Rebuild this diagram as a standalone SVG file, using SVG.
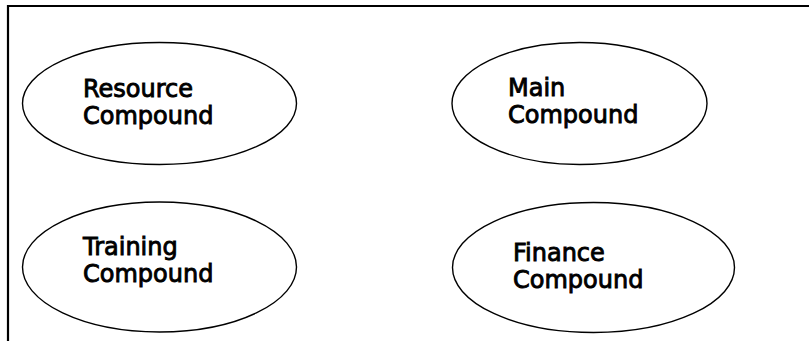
<svg xmlns="http://www.w3.org/2000/svg" width="809" height="341" viewBox="0 0 809 341">
<style>
.frame{fill:none;stroke:#000;stroke-width:2.2}
.node ellipse{fill:#fff;stroke:#000;stroke-width:1.4}
.node text{font-family:"DejaVu Sans",Verdana,sans-serif;font-size:24px;fill:#000;stroke:#000;stroke-width:0.9}
</style>
<rect width="809" height="341" fill="#fff"/>
<path class="frame" d="M8,341 V6 H809"/>
<g id="connectors"></g>
<g id="resource" class="node">
<ellipse cx="159.5" cy="103.5" rx="137" ry="61"/>
<text x="83" y="97">Resource</text>
<text x="83" y="124">Compound</text>
</g>
<g id="main" class="node">
<ellipse cx="579.5" cy="103.5" rx="127.5" ry="61"/>
<text x="508" y="96">Main</text>
<text x="508" y="123">Compound</text>
</g>
<g id="training" class="node">
<ellipse cx="159.5" cy="267" rx="137" ry="65"/>
<text x="83" y="255">Training</text>
<text x="83" y="282">Compound</text>
</g>
<g id="finance" class="node">
<ellipse cx="593.5" cy="267.5" rx="141" ry="65"/>
<text x="513" y="261">Finance</text>
<text x="513" y="288">Compound</text>
</g>
</svg>
